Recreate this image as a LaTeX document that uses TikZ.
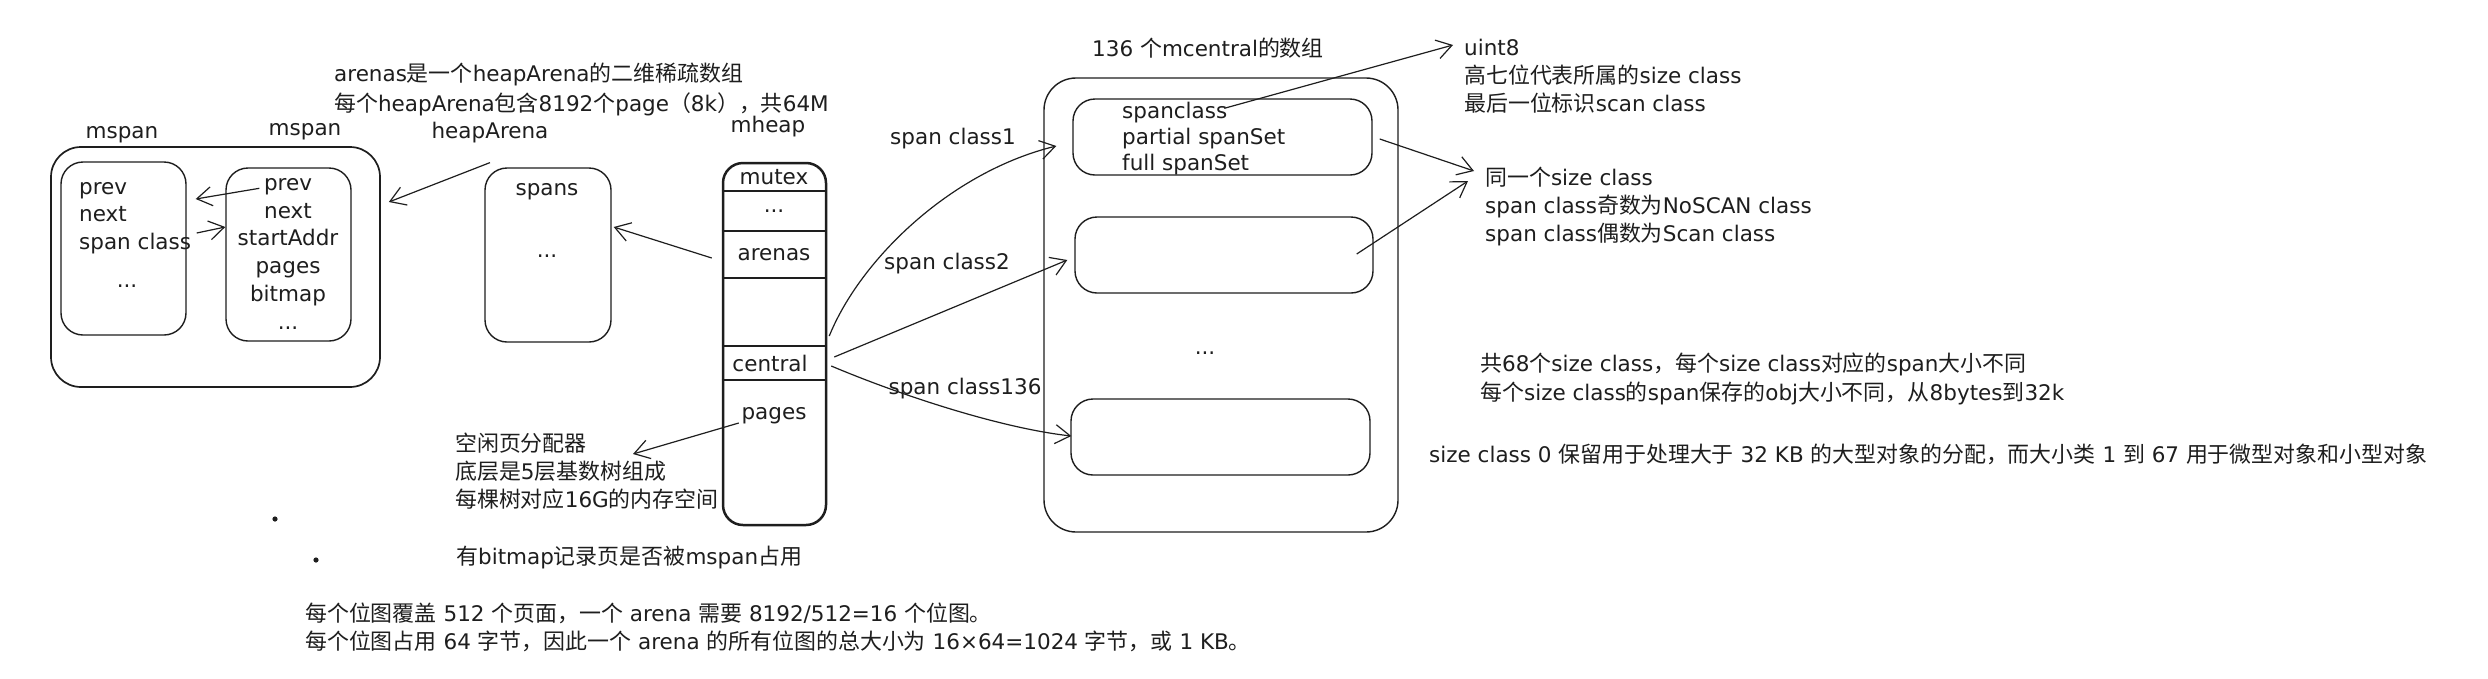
\documentclass[tikz,border=0pt]{standalone}
\usepackage{fontspec}
\setmainfont{DejaVu Sans}
\newfontfamily\cjkf{Noto Sans CJK SC}[Scale=1.02]
\usetikzlibrary{arrows.meta,calc}
\newcommand\zh[1]{{\cjkf #1}}
\definecolor{ink}{HTML}{1E1E1E}
\tikzset{
  txt/.style={inner sep=0pt, text=ink, font=\fontsize{21.5}{28}\selectfont},
  mtxt/.style={txt, align=left, anchor=north west},
  rbox/.style={draw=ink, line width=1.4pt, rounded corners=22pt, inner sep=0pt},
  arr/.style={draw=ink, line width=1.2pt, -{Straight Barb[length=15pt,width=19pt,line width=1.2pt]}},
  rowline/.style={draw=ink, line width=1.5pt},
}
\begin{document}
\begin{tikzpicture}[x=1pt,y=-1pt]
\fill[white] (0,0) rectangle (2488,678);
\useasboundingbox (0,0) rectangle (2488,678);

% ---------- mspan group ----------
\node[rbox, line width=1.7pt, rounded corners=30pt, minimum width=329pt, minimum height=240pt] (outer) at (215.5,267) {};
\node[rbox, minimum width=125pt, minimum height=173pt] (ms1) at (123.5,248.5) {};
\node[rbox, minimum width=125pt, minimum height=173pt] (ms2) at (288.5,254.5) {};
\node[txt] (mspanA) at (122,135) {mspan};
\node[txt] (mspanB) at (305,132) {mspan};
\node[txt, align=left, anchor=north west, font=\fontsize{21.5}{27.5}\selectfont] (ms1t) at (79,182) {prev\\next\\span class};
\node[txt] (ms1d) at (127,286) {...};
\node[txt, align=center, anchor=north, font=\fontsize{21.5}{27.8}\selectfont] (ms2t) at (288,178) {prev\\next\\startAddr\\pages\\bitmap\\...};

% ---------- heapArena ----------
\node[txt] (haLabel) at (490,133) {heapArena};
\node[mtxt, font=\fontsize{21.5}{30}\selectfont] (arenasNote) at (334,63)
  {arenas\zh{是一个}heapArena\zh{的二维稀疏数组}\\\zh{每个}heapArena\zh{包含}8192\zh{个}page\zh{（}8k\zh{），共}64M};
\node[rbox, minimum width=126pt, minimum height=174pt] (spans) at (548,255) {};
\node[txt] (spansT) at (547,192) {spans};
\node[txt] (spansD) at (547,256) {...};

% ---------- mheap ----------
\node[txt] (mheapLabel) at (768,127) {mheap};
\node[rbox, line width=2.5pt, rounded corners=20pt, minimum width=103pt, minimum height=362pt] (mheap) at (774.5,344) {};
\draw[rowline] (mheap.west |- 0,191) -- (mheap.east |- 0,191);
\draw[rowline] (mheap.west |- 0,231) -- (mheap.east |- 0,231);
\draw[rowline] (mheap.west |- 0,278) -- (mheap.east |- 0,278);
\draw[rowline] (mheap.west |- 0,346) -- (mheap.east |- 0,346);
\draw[rowline] (mheap.west |- 0,380) -- (mheap.east |- 0,380);
\node[txt] (mutexT) at (774,177) {mutex};
\node[txt] (dotsT) at (774,211) {...};
\node[txt] (arenasT) at (774,255) {arenas};
\node[txt] (centralT) at (770,363) {central};
\node[txt] (pagesT) at (774,416) {pages};

\node[mtxt] (freeT) at (455,433) {\zh{空闲页分配器}\\\zh{底层是}5\zh{层基数树组成}\\\zh{每棵树对应}16G\zh{的内存空间}};

% ---------- mcentral ----------
\node[txt] (mcLabel) at (1208,48) {136 \zh{个}mcentral\zh{的数组}};
\node[rbox, rounded corners=32pt, minimum width=354pt, minimum height=454pt] (mc) at (1221,305) {};
\node[rbox, minimum width=299pt, minimum height=76pt] (sc1) at (1222.5,137) {};
\node[rbox, minimum width=298pt, minimum height=76pt] (sc2) at (1224,255) {};
\node[rbox, minimum width=299pt, minimum height=76pt] (sc3) at (1220.5,437) {};
\node[mtxt, font=\fontsize{21.5}{26}\selectfont] (sc1t) at (1122,102) {spanclass\\partial spanSet\\full spanSet};
\node[txt] (mcDots) at (1205,353) {...};

\node[txt] (lab1) at (953,139) {span class1};
\node[txt] (lab2) at (947,264) {span class2};
\node[txt] (lab3) at (965,389) {span class136};

% ---------- right notes ----------
\node[mtxt] (uintT) at (1464,39) {uint8\\\zh{高七位代表所属的}size class\\\zh{最后一位标识}scan class};
\node[mtxt] (sameT) at (1485,167) {\zh{同一个}size class\\span class\zh{奇数为}NoSCAN class\\span class\zh{偶数为}Scan class};
\node[mtxt, font=\fontsize{21.5}{29}\selectfont] (countT) at (1480,353) {\zh{共}68\zh{个}size class\zh{，每个}size class\zh{对应的}span\zh{大小不同}\\\zh{每个}size class\zh{的}span\zh{保存的}obj\zh{大小不同，从}8bytes\zh{到}32k};
\node[txt, anchor=west] (sc0T) at (1429,454) {size class 0 \zh{保留用于处理大于} 32 KB \zh{的大型对象的分配，而大小类} 1 \zh{到} 67 \zh{用于微型对象和小型对象}};

% ---------- bottom notes ----------
\fill[ink] (275,519) circle (2.6pt);
\fill[ink] (316,560) circle (2.6pt);
\node[txt, anchor=west] (bitmapT) at (456,558) {\zh{有}bitmap\zh{记录页是否被}mspan\zh{占用}};
\node[mtxt] (bitsT) at (305,603) {\zh{每个位图覆盖} 512 \zh{个页面，一个} arena \zh{需要} 8192/512=16 \zh{个位图。}\\\zh{每个位图占用} 64 \zh{字节，因此一个} arena \zh{的所有位图的总大小为} 16×64=1024 \zh{字节，或} 1 KB\zh{。}};

% ---------- connectors ----------
\draw[arr] ($(haLabel.south)+(0,19)$) -- ($(outer.east)+(8,-65)$);
\draw[arr] ($(mheap.west)+(-10,-86)$) -- ($(spans.east)+(2,-28)$);
\draw[arr] ($(ms2.north west)+(34,21)$) -- ($(ms1.east)+(9,-49.5)$);
\draw[arr] ($(ms1.east)+(10,-15.5)$) -- ($(ms2.west)+(0,-27.5)$);
\draw[arr] ($(mheap.west)+(17,79)$) -- ($(freeT.north west)+(178,21)$);
\draw[arr] ($(mheap.east)+(2,-8)$) .. controls (860,260) and (950,172) .. ($(sc1.west)+(-16,9)$);
\draw[arr] ($(mheap.east)+(7,13)$) -- ($(sc2.west)+(-7,5)$);
\draw[arr] ($(mheap.east)+(4,22)$) .. controls (900,395) and (1000,428) .. ($(sc3.west)+(1,-1)$);
\draw[arr] ($(sc1.north west)+(152,10)$) -- ($(uintT.north west)+(-11,6)$);
\draw[arr] ($(sc1.east)+(7,2)$) -- ($(sameT.north west)+(-11,4)$);
\draw[arr] ($(sc2.east)+(-17,-1)$) -- ($(sameT.north west)+(-17,14)$);
\end{tikzpicture}
\end{document}
